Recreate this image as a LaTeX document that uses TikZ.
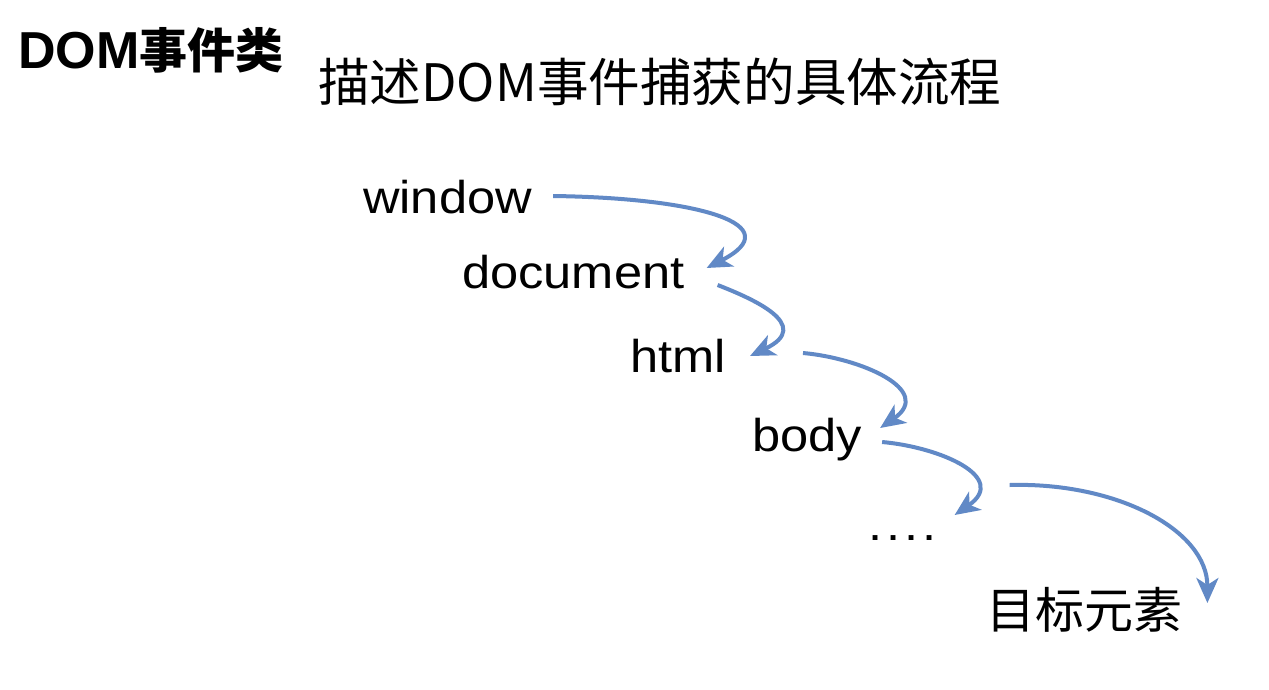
\documentclass[tikz,border=0pt]{standalone}
\usepackage{fontspec}
\setmainfont{Liberation Sans}[FakeStretch=1.1]
\newfontfamily\cjk{Noto Sans CJK SC}
\newfontfamily\headfont{Liberation Sans}
\usepackage{tikz}
\usetikzlibrary{arrows.meta,positioning}
\definecolor{cFlow}{HTML}{6189C6}
\tikzset{
  lbl/.style ={inner sep=0pt, anchor=base west, font=\fontsize{46}{50}\selectfont},
  zh/.style  ={inner sep=0pt, anchor=base west, font=\cjk\fontsize{49}{55}\selectfont},
  flow/.style={-{Stealth[length=25pt,width=22pt,inset=7pt]}, line width=4pt, draw=cFlow},
}

\begin{document}
\begin{tikzpicture}[x=1pt,y=-1pt]
  \fill[white] (0,0) rectangle (1269,689);
  \useasboundingbox (0,0) rectangle (1269,689);
  \node[inner sep=0pt, anchor=base west] (head) at (18,68){\headfont\bfseries\fontsize{52}{56}\selectfont DOM{\cjk\fontsize{48}{52}\selectfont 事件类}};
  \node[zh, font=\cjk\fontsize{51.6}{58}\selectfont] (title) at (318,101){描述DOM事件捕获的具体流程};
  \node[lbl] (window) at (363,213){window};
  \node[lbl] (document) at (462,288){document};
  \node[lbl] (html) at (630,372){html};
  \node[lbl] (body) at (752,451){body};
  \node[lbl] (dots) at (868,540){.\hspace{4pt}.\hspace{4pt}.\hspace{4pt}.};
  \node[zh] (target) at (986,628){目标元素};
  \draw[flow] ([shift={(21,-17)}]window.base east) .. controls +(147,2) and +(84,-43) .. ([shift={(22,-20)}]document.base east);
  \draw[flow] ([shift={(33,-3)}]document.base east) .. controls +(33,13) and +(65,-31) .. ([shift={(24,-16)}]html.base east);
  \draw[flow] ([shift={(77,-19)}]html.base east) .. controls +(57,5) and +(55,-38) .. ([shift={(18,-23)}]body.base east);
  \draw[flow] ([shift={(20,-9)}]body.base east) .. controls +(57,5) and +(55,-38) .. ([shift={(18,-25)}]dots.base east);
  \draw[flow] ([shift={(73,-55)}]dots.base east) .. controls +(107,-3) and +(0,-73) .. ([shift={(25,-25)}]target.base east);
\end{tikzpicture}
\end{document}
